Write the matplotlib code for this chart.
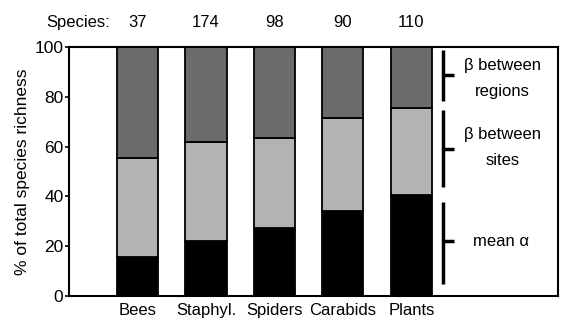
import matplotlib.pyplot as plt
import numpy as np

plt.rcParams['font.family'] = ['Liberation Sans', 'DejaVu Sans']

groups = ['Bees', 'Staphyl.', 'Spiders', 'Carabids', 'Plants']
species = [37, 174, 98, 90, 110]
mean_alpha = [15.6, 22.1, 27.3, 34.2, 40.7]
beta_sites = [40.0, 39.9, 36.1, 37.2, 34.8]
beta_regions = [44.4, 38.0, 36.6, 28.6, 24.5]

x = np.arange(len(groups))
w = 0.6

fig = plt.figure(figsize=(5.63, 3.25), dpi=100)
ax = fig.add_axes([0.1226, 0.0892, 0.8684, 0.7658])

b1 = np.array(mean_alpha)
b2 = b1 + np.array(beta_sites)
ax.bar(x, mean_alpha, w, color='black', edgecolor='black', linewidth=1.3)
ax.bar(x, beta_sites, w, bottom=b1, color='#b3b3b3', edgecolor='black', linewidth=1.3)
ax.bar(x, beta_regions, w, bottom=b2, color='#6b6b6b', edgecolor='black', linewidth=1.3)

ax.set_xlim(-1.0, 6.14)
ax.set_ylim(0, 100)
ax.set_yticks([0, 20, 40, 60, 80, 100])
ax.tick_params(axis='y', direction='out', length=3, width=1.2, labelsize=12.5, pad=1)
ax.set_xticks(x)
ax.set_xticklabels(groups, fontsize=12)
ax.tick_params(axis='x', length=0, pad=5)
for s in ax.spines.values():
    s.set_linewidth(1.5)
ax.set_ylabel('% of total species richness', fontsize=12.5, labelpad=3)

# species counts across the top
ax.text(-0.87, 1.1, 'Species:', transform=ax.get_xaxis_transform(),
        ha='center', va='center', fontsize=12)
for xi, n in zip(x, species):
    ax.text(xi, 1.1, str(n), transform=ax.get_xaxis_transform(),
            ha='center', va='center', fontsize=12)

# brackets for the partition components
bx, tx = 4.46, 4.62
for lo, hi, mid in [(78.3, 98.8, 88.9), (43.9, 74.8, 59.0), (4.8, 37.9, 22.1)]:
    ax.plot([bx, bx], [lo, hi], color='black', lw=2.5, solid_capstyle='butt')
    ax.plot([bx, tx], [mid, mid], color='black', lw=2.5, solid_capstyle='butt')

ax.text(5.33, 92.5, '\u03b2 between', ha='center', va='center', fontsize=12)
ax.text(5.33, 82.3, 'regions', ha='center', va='center', fontsize=12)
ax.text(5.33, 65.0, '\u03b2 between', ha='center', va='center', fontsize=12)
ax.text(5.33, 54.5, 'sites', ha='center', va='center', fontsize=12)
ax.text(5.31, 21.8, 'mean \u03b1', ha='center', va='center', fontsize=12)

fig.savefig('out.png', dpi=100)
